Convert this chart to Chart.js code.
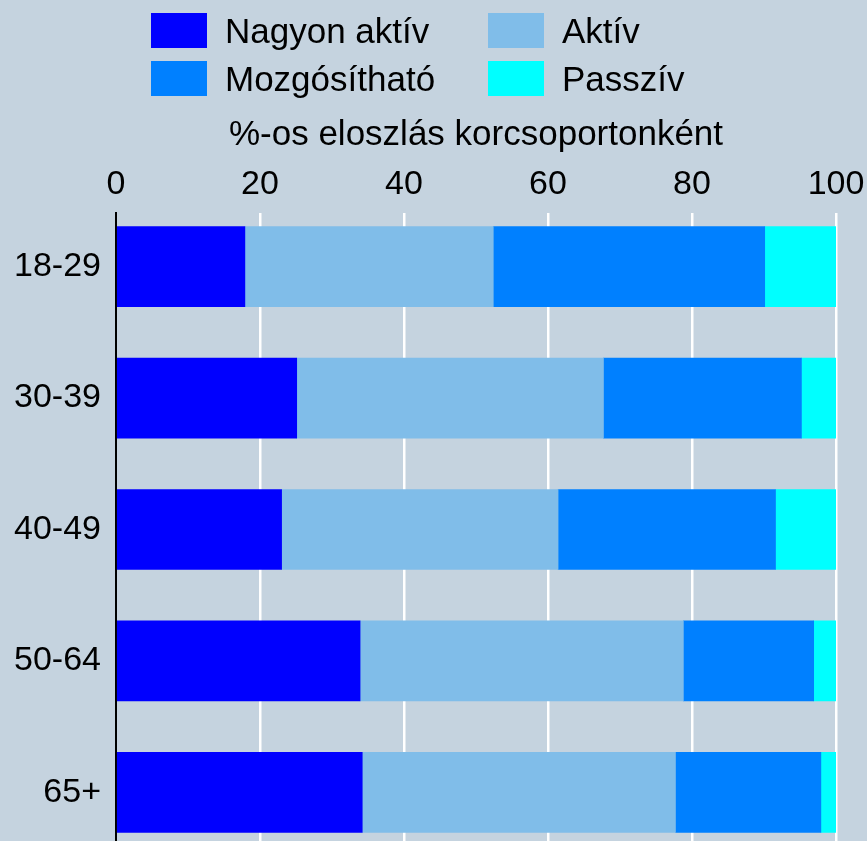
<!DOCTYPE html>
<html lang="hu">
<head>
  <meta charset="UTF-8" />
  <title>Korcsoportok aktivitása</title>
  <script src="https://cdn.jsdelivr.net/npm/chart.js"></script>
  <style>
    html, body {
      margin: 0;
      padding: 0;
      overflow: hidden;
      background-color: #c5d3df;
      font-family: 'Liberation Sans', Arial, sans-serif;
    }
    .wrap {
      position: relative;
      width: 867px;
      height: 841px;
    }
    .wrap canvas {
      position: absolute;
      left: 0;
      top: 0;
    }
    #legend {
      position: absolute;
      left: 151px;
      top: 13px;
      display: grid;
      grid-template-columns: 337px auto;
      grid-auto-rows: 35px;
      row-gap: 13px;
      font-size: 35px;
      color: #000;
    }
    #legend .item {
      display: flex;
      align-items: center;
      gap: 18px;
    }
    #legend .box {
      width: 56px;
      height: 35px;
    }
  </style>
</head>
<body>
  <div class="wrap">
    <canvas id="chart" width="867" height="841"></canvas>
    <div id="legend"></div>
  </div>

  <script>
    const ageGroups = ['18-29', '30-39', '40-49', '50-64', '65+'];
    const seriesNames = ['Nagyon aktív', 'Aktív', 'Mozgósítható', 'Passzív'];
    const veryActive = [17.9, 25.1, 23.0, 33.9, 34.2];
    const active = [34.5, 42.6, 38.4, 44.9, 43.5];
    const mobilizable = [37.7, 27.5, 30.2, 18.1, 20.2];
    const passive = [9.9, 4.8, 8.4, 3.1, 2.1];
    const xTicks = [0, 20, 40, 60, 80, 100];
    const axisTitle = '%-os eloszlás korcsoportonként';

    const colors = ['#0000ff', '#80bde9', '#0080ff', '#00ffff'];
    const values = [veryActive, active, mobilizable, passive];

    Chart.defaults.font.family = "'Liberation Sans', Arial, sans-serif";
    Chart.defaults.color = '#000';

    const datasets = seriesNames.map((name, k) => ({
      label: name,
      data: values[k].map((v, i) => ({ x: v, y: i })),
      backgroundColor: colors[k],
      borderWidth: 0,
      barThickness: 80
    }));

    const chart = new Chart(document.getElementById('chart'), {
      type: 'bar',
      data: { datasets: datasets },
      options: {
        indexAxis: 'y',
        responsive: false,
        animation: false,
        events: [],
        layout: { padding: { top: 112, right: 31, left: 0, bottom: 0 } },
        plugins: {
          legend: { display: false },
          tooltip: { enabled: false }
        },
        scales: {
          x: {
            type: 'linear',
            position: 'top',
            stacked: true,
            min: 0,
            max: 100,
            afterBuildTicks: s => { s.ticks = xTicks.map(v => ({ value: v })); },
            afterFit: s => { s.paddingRight = 0; },
            ticks: { font: { size: 34 }, padding: 8, color: '#000' },
            grid: {
              drawTicks: false,
              lineWidth: 2.5,
              color: c => (c.tick && c.tick.value === 0) ? 'rgba(0,0,0,0)' : '#ffffff'
            },
            border: { display: false },
            title: {
              display: true,
              text: axisTitle,
              font: { size: 35 },
              color: '#000',
              padding: { top: 2, bottom: 0 }
            }
          },
          y: {
            type: 'linear',
            reverse: true,
            stacked: true,
            offset: false,
            min: -0.41,
            max: 4.37,
            ticks: {
              stepSize: 1,
              includeBounds: false,
              font: { size: 34 },
              padding: 15,
              color: '#000',
              callback: v => ageGroups[v] ?? ''
            },
            grid: { display: false, drawTicks: false },
            border: { display: true, color: '#000', width: 2 },
            afterFit: s => {
              s.width = 116;
              s.paddingTop = 0;
              s.paddingBottom = 0;
            }
          }
        }
      }
    });

    // legend in two columns, like the original
    const legend = document.getElementById('legend');
    chart.data.datasets.forEach(ds => {
      const item = document.createElement('div');
      item.className = 'item';
      const box = document.createElement('span');
      box.className = 'box';
      box.style.background = ds.backgroundColor;
      const txt = document.createElement('span');
      txt.textContent = ds.label;
      item.appendChild(box);
      item.appendChild(txt);
      legend.appendChild(item);
    });
  </script>
</body>
</html>
